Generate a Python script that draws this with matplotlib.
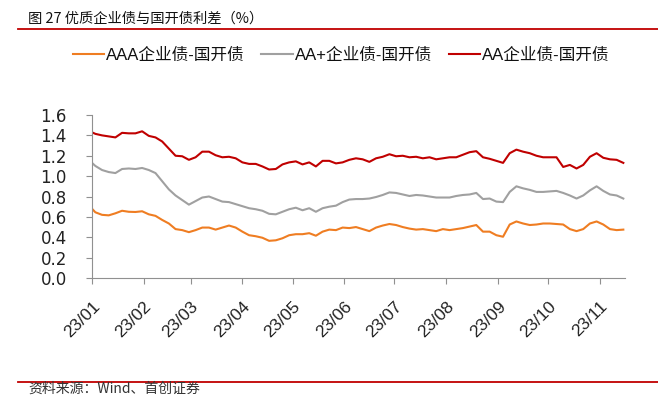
import matplotlib
matplotlib.use("Agg")
import matplotlib.pyplot as plt
from matplotlib.lines import Line2D
import pandas as pd

# ---------------- data ----------------
dates = pd.to_datetime(["2023-01-01"]).append(
    pd.date_range("2023-01-03", "2023-11-15", freq="4D"))

aaa = [0.68,
       0.645, 0.62, 0.615, 0.635, 0.66, 0.65, 0.648, 0.655, 0.625, 0.61,
       0.57, 0.535, 0.48, 0.47, 0.45, 0.47, 0.495, 0.495, 0.475, 0.495,
       0.515, 0.495, 0.455, 0.42, 0.41, 0.395, 0.365, 0.37, 0.39, 0.42,
       0.43, 0.43, 0.44, 0.415, 0.455, 0.475, 0.47, 0.495, 0.49, 0.50,
       0.48, 0.46, 0.495, 0.515, 0.53, 0.52, 0.50, 0.485, 0.475, 0.48,
       0.47, 0.46, 0.48, 0.47, 0.48, 0.49, 0.505, 0.52, 0.455, 0.455,
       0.42, 0.405, 0.525, 0.555, 0.535, 0.52, 0.525, 0.535, 0.535, 0.53,
       0.525, 0.48, 0.46, 0.48, 0.535, 0.555, 0.525, 0.48, 0.47, 0.475]

aaplus = [1.13,
          1.10, 1.06, 1.04, 1.03, 1.07, 1.075, 1.07, 1.08, 1.06, 1.03,
          0.95, 0.87, 0.81, 0.765, 0.72, 0.755, 0.79, 0.80, 0.775, 0.75,
          0.745, 0.725, 0.705, 0.685, 0.675, 0.66, 0.63, 0.625, 0.65, 0.675,
          0.69, 0.665, 0.685, 0.65, 0.685, 0.70, 0.71, 0.745, 0.77, 0.775,
          0.775, 0.78, 0.795, 0.815, 0.84, 0.835, 0.82, 0.805, 0.815, 0.81,
          0.80, 0.79, 0.79, 0.79, 0.805, 0.815, 0.82, 0.835, 0.775, 0.78,
          0.75, 0.745, 0.845, 0.90, 0.88, 0.865, 0.845, 0.845, 0.85, 0.855,
          0.835, 0.81, 0.78, 0.81, 0.86, 0.90, 0.855, 0.82, 0.81, 0.78]

aa = [1.43,
      1.415, 1.40, 1.39, 1.38, 1.425, 1.42, 1.42, 1.44, 1.395, 1.38,
      1.34, 1.27, 1.20, 1.195, 1.16, 1.185, 1.24, 1.24, 1.205, 1.185,
      1.19, 1.175, 1.135, 1.12, 1.12, 1.095, 1.065, 1.07, 1.115, 1.135,
      1.145, 1.115, 1.135, 1.095, 1.15, 1.15, 1.125, 1.135, 1.16, 1.175,
      1.165, 1.14, 1.175, 1.19, 1.215, 1.195, 1.20, 1.185, 1.19, 1.175,
      1.185, 1.165, 1.175, 1.185, 1.185, 1.21, 1.235, 1.245, 1.185, 1.17,
      1.15, 1.13, 1.225, 1.26, 1.24, 1.225, 1.20, 1.185, 1.185, 1.185,
      1.09, 1.11, 1.075, 1.11, 1.19, 1.225, 1.18, 1.165, 1.16, 1.13]

series_names = ["AAA企业债-国开债", "AA+企业债-国开债", "AA企业债-国开债"]
series_colors = ["#EF7D22", "#A0A0A0", "#C00000"]
month_ticks = pd.date_range("2023-01-01", "2023-11-01", freq="MS")
y_ticks = [0.0, 0.2, 0.4, 0.6, 0.8, 1.0, 1.2, 1.4, 1.6]

title = "图 27 优质企业债与国开债利差（%）"
source = "资料来源：Wind、首创证券"

# ---------------- figure ----------------
W, H = 658, 396
fig = plt.figure(figsize=(W / 100, H / 100), dpi=100)
fig.patch.set_facecolor("white")

cjk = ["Noto Sans CJK SC", "DejaVu Sans"]
latin_cjk = ["Liberation Sans", "Noto Sans CJK SC"]

ax = fig.add_axes([92 / W, 1 - 278 / H, (625 - 92) / W, (278 - 115) / H])

for vals, name, col in zip([aaa, aaplus, aa], series_names, series_colors):
    ax.plot(dates, vals, color=col, lw=1.5, label=name, solid_joinstyle="round")

ax.set_ylim(0, 1.6)
ax.set_xlim(pd.Timestamp("2023-01-01"), pd.Timestamp("2023-11-16"))
ax.set_yticks(y_ticks)
ax.set_yticklabels([f"{v:.1f}" for v in y_ticks], fontsize=12,
                   family="DejaVu Sans", color="#222222")
ax.set_xticks(month_ticks)
ax.set_xticklabels([d.strftime("%y/%m") for d in month_ticks], rotation=45,
                   ha="right", va="top", rotation_mode="anchor",
                   fontsize=12.5, family="Liberation Sans", color="#222222")
ax.tick_params(axis="y", length=4, width=0.8, color="#909090", pad=14)
ax.tick_params(axis="x", length=4, width=0.8, color="#909090", pad=11)

for s in ["top", "right"]:
    ax.spines[s].set_visible(False)
for s in ["left", "bottom"]:
    ax.spines[s].set_color("#909090")
    ax.spines[s].set_linewidth(0.8)

leg = ax.legend(loc="center", bbox_to_anchor=(341 / W, 1 - 55 / H),
                bbox_transform=fig.transFigure, ncol=3, frameon=False,
                handlelength=1.9, handletextpad=0.1, columnspacing=1.0,
                prop={"family": latin_cjk, "size": 12})
for t in leg.get_texts():
    t.set_color("#111111")

# title and rule
fig.text(28 / W, 1 - 19 / H, title, fontsize=10.3, family=cjk,
         va="center", ha="left", color="#111111")
fig.add_artist(Line2D([18 / W, 1.0], [1 - 29 / H] * 2, color="#C00000", lw=1.3))

# source and rule
fig.add_artist(Line2D([18 / W, 1.0], [1 - 382 / H] * 2, color="#C00000", lw=1.3))
fig.text(28 / W, 1 - 388.5 / H, source, fontsize=10, family=cjk,
         style="italic", va="center", ha="left", color="#333333")

fig.savefig("out.png", dpi=100)
